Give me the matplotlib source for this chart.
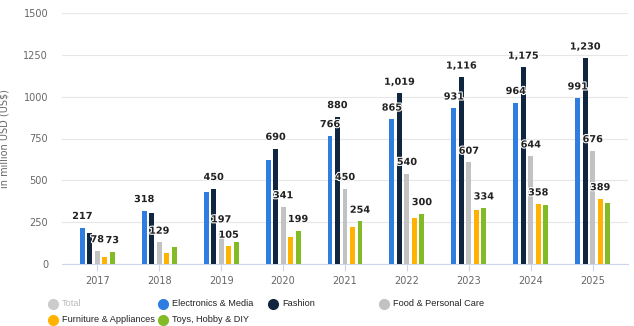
import numpy as np
import matplotlib.pyplot as plt
import matplotlib.patheffects as pe
from matplotlib.lines import Line2D

years = ['2017', '2018', '2019', '2020', '2021', '2022', '2023', '2024', '2025']
series = ['Electronics & Media', 'Fashion', 'Food & Personal Care',
          'Furniture & Appliances', 'Toys, Hobby & DIY']
electronics = [217, 318, 432, 619, 766, 865, 931, 964, 991]
fashion = [187, 305, 450, 690, 880, 1019, 1116, 1175, 1230]
food = [78, 129, 197, 341, 450, 540, 607, 644, 676]
furniture = [42, 66, 105, 163, 223, 272, 324, 358, 389]
toys = [73, 101, 131, 199, 254, 300, 334, 350, 366]
# which years carry a value label, per series (others hidden as in the original)
labelled = [
    ['2017', '2018', '2021', '2022', '2023', '2024', '2025'],
    ['2019', '2020', '2021', '2022', '2023', '2024', '2025'],
    years,
    ['2019', '2024', '2025'],
    ['2017', '2020', '2021', '2022', '2023'],
]
colors = ['#2f7de1', '#10253f', '#c2c2c2', '#ffb300', '#82bb26']
yticks = [0, 250, 500, 750, 1000, 1250, 1500]

fig = plt.figure(figsize=(6.34, 3.26), dpi=100)
ax = fig.add_axes([62 / 634, 1 - 264 / 326, 566 / 634, 251 / 326])

x = np.arange(len(years))
width = 0.08
step = 0.121
data = [electronics, fashion, food, furniture, toys]
for i, (vals, col) in enumerate(zip(data, colors)):
    pos = x + (i - 2) * step
    ax.bar(pos, vals, width, color=col, zorder=3)
    for p, v, yr in zip(pos, vals, years):
        if yr in labelled[i]:
            ax.text(p, v + 40, f'{v:,}', ha='center', va='bottom', fontsize=7,
                    fontweight='bold', color='#222222', zorder=5,
                    path_effects=[pe.withStroke(linewidth=1.5, foreground='white')])

ax.set_xlim(-0.57, 8.57)
ax.set_ylim(0, 1500)
ax.set_yticks(yticks)
ax.set_yticklabels([str(t) for t in yticks], fontsize=7, color='#666666')
ax.set_xticks(x)
ax.set_xticklabels(years, fontsize=7, color='#666666')
ax.tick_params(axis='y', length=0, pad=10)
ax.tick_params(axis='x', length=5, color='#ccd6eb', pad=4)
ax.grid(axis='y', color='#e6e6e6', linewidth=0.8, zorder=0)
for s in ['top', 'right', 'left']:
    ax.spines[s].set_visible(False)
ax.spines['bottom'].set_color('#ccd6eb')
ax.set_ylabel('in million USD (US$)', fontsize=7, color='#666666', labelpad=10)

# legend drawn by hand on a fixed grid
legend_items = [('Total', '#cccccc', '#bbbbbb')] + \
    [(name, col, '#222222') for name, col in zip(series, colors)]
slots = [(53, 304), (163, 304), (273, 304), (384, 304), (53, 320), (163, 320)]
for (name, col, tcol), (lx, ly) in zip(legend_items, slots):
    fig.add_artist(Line2D([lx / 634], [1 - ly / 326], marker='o', markersize=7,
                          color=col, linestyle='none', transform=fig.transFigure))
    fig.text((lx + 9) / 634, 1 - ly / 326, name, family='Liberation Sans',
             fontsize=6.6, color=tcol, va='center', ha='left')

fig.savefig('out.png', dpi=100)
